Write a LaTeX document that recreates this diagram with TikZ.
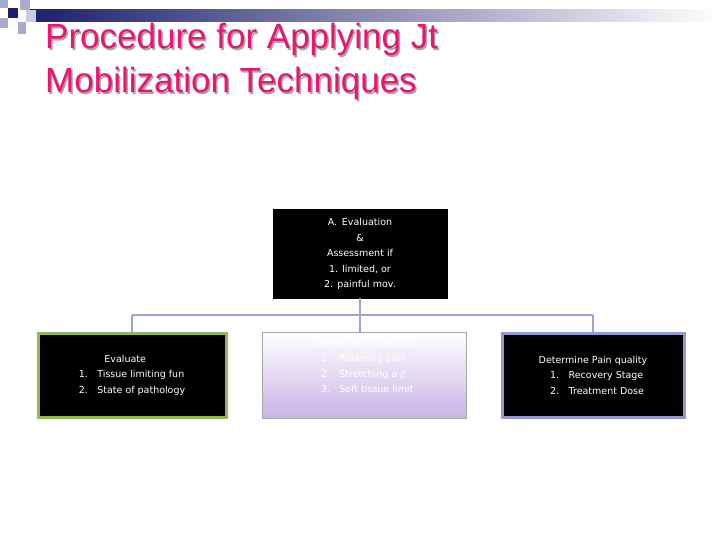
\documentclass[tikz,border=0pt]{standalone}
\usepackage{fontspec}
\setmainfont{Liberation Sans}
\newfontfamily\vfont{DejaVu Sans}
\definecolor{navy}{RGB}{30,30,110}
\definecolor{sq}{RGB}{170,170,205}
\definecolor{ttl}{RGB}{235,20,115}
\definecolor{conn}{RGB}{165,160,205}
\definecolor{grn}{RGB}{150,180,90}
\definecolor{blu}{RGB}{150,150,215}
\definecolor{lav}{RGB}{200,180,230}
\begin{document}
\begin{tikzpicture}[x=1pt,y=-1pt,
  box/.style={draw, line width=3pt, fill=black, text=white, font=\vfont\fontsize{9.5}{15.5}\selectfont, align=center, inner sep=0pt},
  conn/.style={draw=conn, line width=2.5pt}]
\useasboundingbox (0,0) rectangle (720,540);
\fill[white] (0,0) rectangle (720,540);
% decoration
\shade[left color=navy, right color=white] (30,10) rectangle (720,22);
\fill[sq] (0,0) rectangle (8,8);
\fill[sq] (20,0) rectangle (30,10);
\fill[navy] (8,8) rectangle (18,18);
\fill[sq] (0,18) rectangle (8,28);
\fill[sq] (18,22) rectangle (26,34);
\fill[sq!60] (26,10) rectangle (36,22);
% title
\node[anchor=north west, text=gray!70, font=\fontsize{35}{44}\selectfont, align=left, inner sep=0pt] at (46.5,24.5) {Procedure for Applying Jt\\Mobilization Techniques};
\node[anchor=north west, text=ttl, font=\fontsize{35}{44}\selectfont, align=left, inner sep=0pt] (title) at (45,23) {Procedure for Applying Jt\\Mobilization Techniques};
% boxes
\node[box, draw=black, line width=0pt, minimum width=174, minimum height=88] (top) at (360,254) {A.\enspace Evaluation\\\&\\Assessment if\\ 1. limited, or\\2. painful mov.};
\node[box, draw=grn, minimum width=188, minimum height=84, align=left] (l) at (132,375) {\hspace*{2.7em}Evaluate\\1.\quad Tissue limiting fun\\2.\quad State of pathology};
\shade[top color=white, bottom color=lav, draw=gray!70] (262,332) rectangle (466,418);
\node[font=\vfont\fontsize{9.5}{15.5}\selectfont, text=white, align=left, inner sep=0pt] (m) at (364,366) {Determine ttt direction\\\hspace*{1.2em}1.\quad Relieving pain\\\hspace*{1.2em}2.\quad Stretching a jt\\\hspace*{1.2em}3.\quad Soft tissue limit};
\node[box, draw=blu, minimum width=182, minimum height=84, align=left] (r) at (593,375) {Determine Pain quality\\\hspace*{1.2em}1.\quad Recovery Stage\\\hspace*{1.2em}2.\quad Treatment Dose};
\coordinate (j) at (360,315);
\coordinate (jl) at (132,315);
\coordinate (jr) at (593,315);
\draw[conn] (top.south) -- (j);
\draw[conn] (jl) -- (jr);
\draw[conn] (jl) -- (l.north);
\draw[conn] (j) -- (360,332);
\draw[conn] (jr) -- (r.north);
\end{tikzpicture}
\end{document}
